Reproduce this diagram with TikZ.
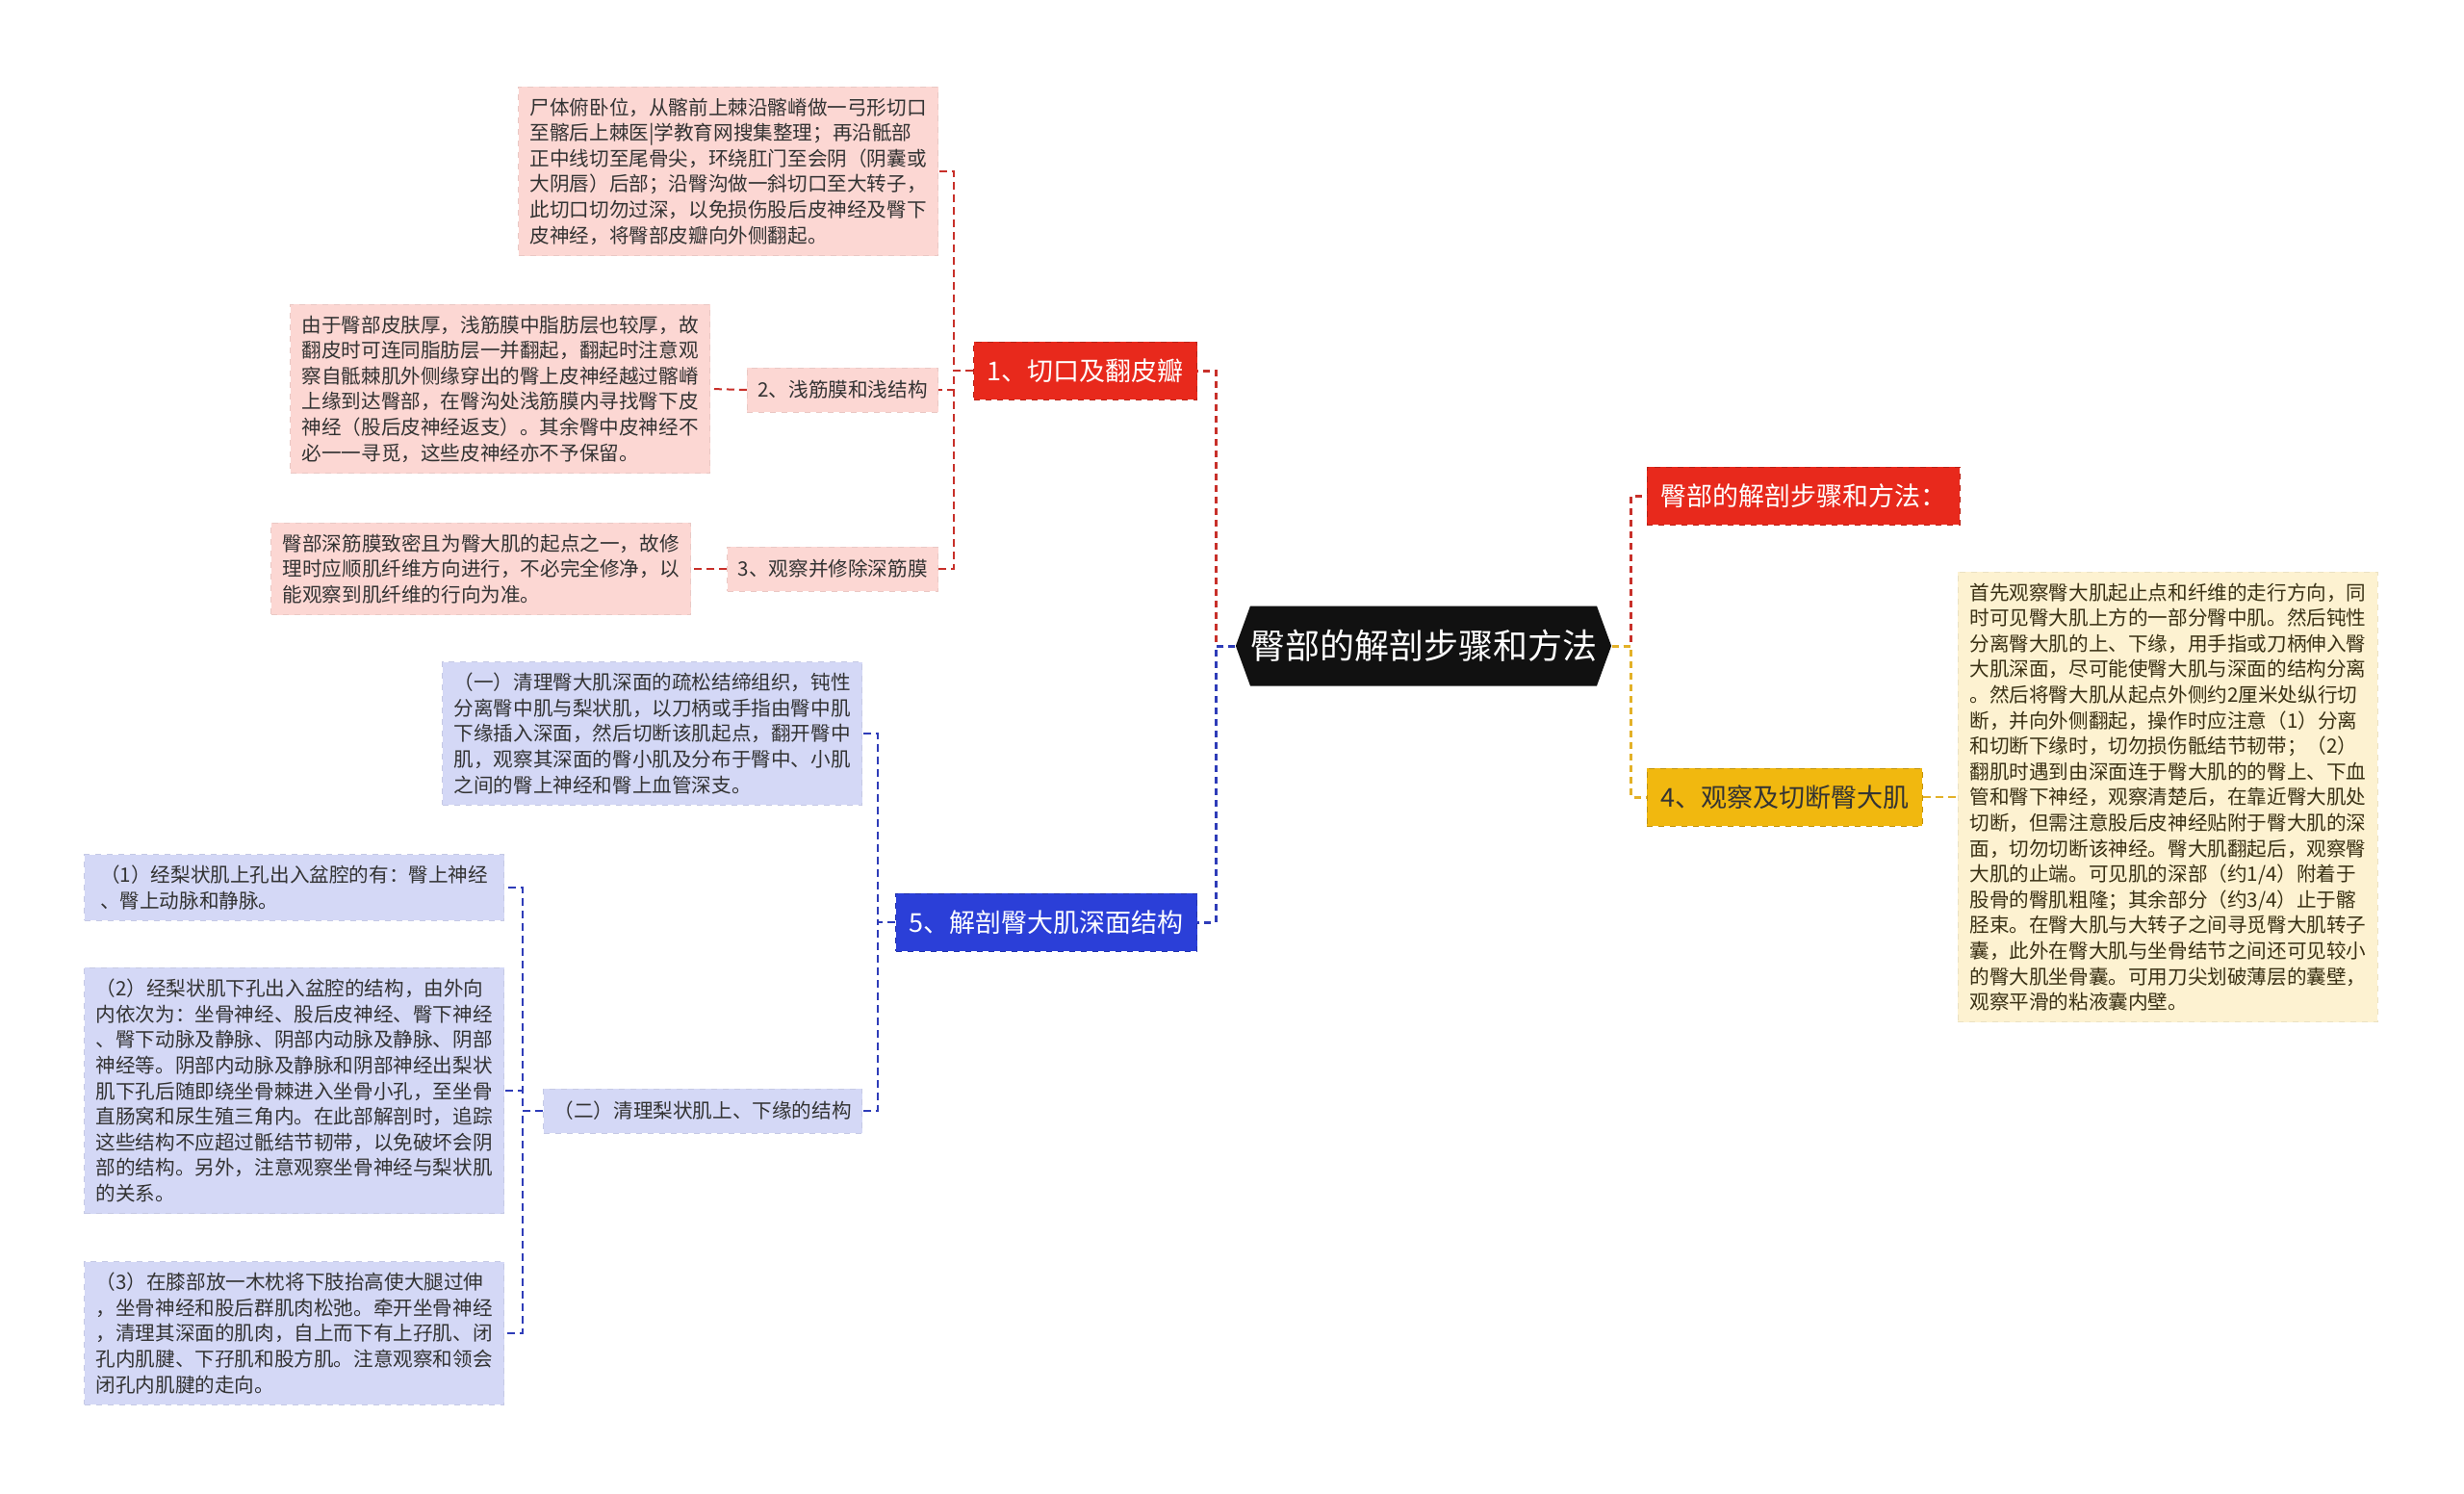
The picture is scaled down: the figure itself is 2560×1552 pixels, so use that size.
\documentclass[tikz,border=0pt]{standalone}
\usepackage{fontspec}
\setmainfont{Noto Sans CJK SC}
\usetikzlibrary{shapes.symbols}
\definecolor{rootblack}{HTML}{111111}
\definecolor{topred}{HTML}{E8291C}
\definecolor{topblue}{HTML}{2B3FD8}
\definecolor{topgold}{HTML}{F1B80F}
\definecolor{notepink}{HTML}{FCD7D3}
\definecolor{noteblue}{HTML}{D4D8F6}
\definecolor{notecream}{HTML}{FDF2D1}
\definecolor{linkred}{HTML}{C8302A}
\definecolor{linkblue}{HTML}{2E3CB8}
\definecolor{linkgold}{HTML}{E3B128}
\definecolor{inktext}{HTML}{333333}
\definecolor{inkbrown}{HTML}{3A3115}

\begin{document}
\begin{tikzpicture}[x=0.5pt,y=-0.5pt,
  rootnode/.style={signal,signal to=east and west,signal pointer angle=140,fill=rootblack,text=white,minimum height=41.5pt,inner xsep=0pt,font=\fontsize{18}{20}\selectfont},
  topic/.style={fill=#1,draw=#1!80!black,dashed,minimum height=30pt,inner xsep=7pt,font=\fontsize{13.5}{15}\selectfont},
  subtopic/.style={fill=#1,draw=#1!93!black,dashed,minimum height=23pt,inner xsep=5.5pt,text=inktext,font=\fontsize{10.3}{13.3}\selectfont},
  notebox/.style={fill=#1,draw=#1!93!black,dashed,minimum width=218pt,inner xsep=5.5pt,inner ysep=5.75pt,align=left,text=inktext,font=\fontsize{10.3}{13.3}\selectfont},
  branch/.style={draw=#1,dash pattern=on 4pt off 2.5pt,line width=1pt},
  trunk/.style={draw=#1,dash pattern=on 3.5pt off 2.5pt,line width=1.5pt}]
\fill[white] (0,0) rectangle (2560,1552);
\useasboundingbox (0,0) rectangle (2560,1552);

\node[rootnode] (root) at (1479,671) {臀部的解剖步骤和方法};

% right side
\node[topic=topred,text=white,anchor=west] (title) at (1711,515) {臀部的解剖步骤和方法：};
\node[topic=topgold,text=inktext,anchor=west] (cut) at (1711,828) {4、观察及切断臀大肌};
\node[notebox=notecream,text=inkbrown,anchor=west] (cutnote) at (2034,828) {首先观察臀大肌起止点和纤维的走行方向，同\\
时可见臀大肌上方的一部分臀中肌。然后钝性\\
分离臀大肌的上、下缘，用手指或刀柄伸入臀\\
大肌深面，尽可能使臀大肌与深面的结构分离\\
。然后将臀大肌从起点外侧约2厘米处纵行切\\
断，并向外侧翻起，操作时应注意（1）分离\\
和切断下缘时，切勿损伤骶结节韧带；（2）\\
翻肌时遇到由深面连于臀大肌的的臀上、下血\\
管和臀下神经，观察清楚后，在靠近臀大肌处\\
切断，但需注意股后皮神经贴附于臀大肌的深\\
面，切勿切断该神经。臀大肌翻起后，观察臀\\
大肌的止端。可见肌的深部（约1/4）附着于\\
股骨的臀肌粗隆；其余部分（约3/4）止于髂\\
胫束。在臀大肌与大转子之间寻觅臀大肌转子\\
囊，此外在臀大肌与坐骨结节之间还可见较小\\
的臀大肌坐骨囊。可用刀尖划破薄层的囊壁，\\
观察平滑的粘液囊内壁。};

% left side, upper
\node[topic=topred,text=white,anchor=east] (skin) at (1244,385) {1、切口及翻皮瓣};
\node[notebox=notepink,anchor=east] (skinnote) at (975,178) {尸体俯卧位，从髂前上棘沿髂嵴做一弓形切口\\
至髂后上棘医|学教育网搜集整理；再沿骶部\\
正中线切至尾骨尖，环绕肛门至会阴（阴囊或\\
大阴唇）后部；沿臀沟做一斜切口至大转子，\\
此切口切勿过深，以免损伤股后皮神经及臀下\\
皮神经，将臀部皮瓣向外侧翻起。};
\node[subtopic=notepink,anchor=east] (fascia) at (975,405) {2、浅筋膜和浅结构};
\node[notebox=notepink,anchor=east] (fascianote) at (738,404) {由于臀部皮肤厚，浅筋膜中脂肪层也较厚，故\\
翻皮时可连同脂肪层一并翻起，翻起时注意观\\
察自骶棘肌外侧缘穿出的臀上皮神经越过髂嵴\\
上缘到达臀部，在臀沟处浅筋膜内寻找臀下皮\\
神经（股后皮神经返支）。其余臀中皮神经不\\
必一一寻觅，这些皮神经亦不予保留。};
\node[subtopic=notepink,anchor=east] (deep) at (975,591) {3、观察并修除深筋膜};
\node[notebox=notepink,anchor=east] (deepnote) at (718,591) {臀部深筋膜致密且为臀大肌的起点之一，故修\\
理时应顺肌纤维方向进行，不必完全修净，以\\
能观察到肌纤维的行向为准。};

% left side, lower
\node[topic=topblue,text=white,anchor=east] (gmax) at (1244,958) {5、解剖臀大肌深面结构};
\node[notebox=noteblue,anchor=east] (gmed) at (896,762) {（一）清理臀大肌深面的疏松结缔组织，钝性\\
分离臀中肌与梨状肌，以刀柄或手指由臀中肌\\
下缘插入深面，然后切断该肌起点，翻开臀中\\
肌，观察其深面的臀小肌及分布于臀中、小肌\\
之间的臀上神经和臀上血管深支。};
\node[subtopic=noteblue,anchor=east] (pirif) at (896,1154) {（二）清理梨状肌上、下缘的结构};
\node[notebox=noteblue,anchor=east] (supra) at (524,922) {（1）经梨状肌上孔出入盆腔的有：臀上神经\\
、臀上动脉和静脉。};
\node[notebox=noteblue,anchor=east] (infra) at (524,1133) {（2）经梨状肌下孔出入盆腔的结构，由外向\\
内依次为：坐骨神经、股后皮神经、臀下神经\\
、臀下动脉及静脉、阴部内动脉及静脉、阴部\\
神经等。阴部内动脉及静脉和阴部神经出梨状\\
肌下孔后随即绕坐骨棘进入坐骨小孔，至坐骨\\
直肠窝和尿生殖三角内。在此部解剖时，追踪\\
这些结构不应超过骶结节韧带，以免破坏会阴\\
部的结构。另外，注意观察坐骨神经与梨状肌\\
的关系。};
\node[notebox=noteblue,anchor=east] (obtur) at (524,1385) {（3）在膝部放一木枕将下肢抬高使大腿过伸\\
，坐骨神经和股后群肌肉松弛。牵开坐骨神经\\
，清理其深面的肌肉，自上而下有上孖肌、闭\\
孔内肌腱、下孖肌和股方肌。注意观察和领会\\
闭孔内肌腱的走向。};

% branches
\draw[trunk=linkred] (root.west) -- ++(-20,0) |- (skin.east);
\draw[trunk=linkblue] (root.west) -- ++(-20,0) |- (gmax.east);
\draw[trunk=linkred] (root.east) -- ++(20,0) |- (title.west);
\draw[trunk=linkgold] (root.east) -- ++(20,0) |- (cut.west);
\draw[branch=linkgold] (cut.east) -- (cutnote.west);
\foreach \c in {skinnote,fascia,deep}
  \draw[branch=linkred] (skin.west) -- ++(-20,0) |- (\c.east);
\draw[branch=linkred] (fascia.west) -- (fascianote.east);
\draw[branch=linkred] (deep.west) -- (deepnote.east);
\foreach \c in {gmed,pirif}
  \draw[branch=linkblue] (gmax.west) -- ++(-18,0) |- (\c.east);
\foreach \c in {supra,infra,obtur}
  \draw[branch=linkblue] (pirif.west) -- ++(-21,0) |- (\c.east);
\end{tikzpicture}
\end{document}
